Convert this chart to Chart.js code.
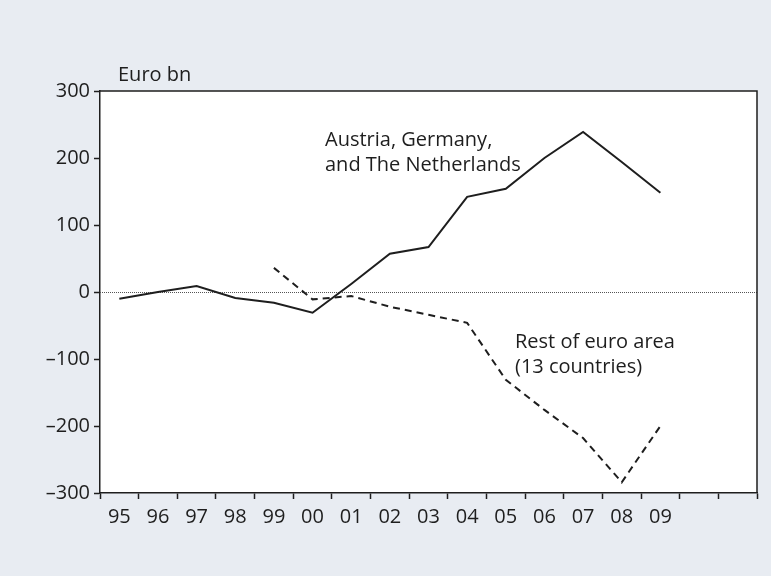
<!DOCTYPE html>
<html>
<head>
<meta charset="utf-8">
<script src="https://cdn.jsdelivr.net/npm/chart.js@4/dist/chart.umd.min.js"></script>
<style>
  html, body { margin: 0; padding: 0; background: #e8ecf2; }
  #wrap { width: 771px; height: 576px; }
</style>
</head>
<body>
<div id="wrap"><canvas id="c" width="771" height="576"></canvas></div>
<script>
const years = ['95', '96', '97', '98', '99', '00', '01', '02', '03', '04', '05', '06', '07', '08', '09', '', ''];
const coreSurplus = [-10, 0, 9, -9, -16, -31, 12, 57, 67, 142, 154, 200, 239, 194, 148, null, null];
const restSurplus = [null, null, null, null, 36, -11, -6, -22, -34, -46, -131, -176, -218, -284, -200, null, null];
const yTicks = [-300, -200, -100, 0, 100, 200, 300];

const FONT = '"Open Sans", "DejaVu Sans", sans-serif';
const INK = '#1e1e1e';

// white plot area, frame, zero line and the text notes
const framePlugin = {
  id: 'frame',
  beforeDraw(chart) {
    const { ctx, chartArea: a } = chart;
    ctx.save();
    ctx.fillStyle = '#ffffff';
    ctx.fillRect(a.left, a.top, a.right - a.left, a.bottom - a.top);
    ctx.restore();
  },
  beforeDatasetsDraw(chart) {
    const { ctx, chartArea: a, scales } = chart;
    const y0 = scales.y.getPixelForValue(0);
    ctx.save();
    ctx.strokeStyle = '#555555';
    ctx.lineWidth = 1;
    ctx.setLineDash([1, 1]);
    ctx.beginPath();
    ctx.moveTo(a.left, y0 + 0.5);
    ctx.lineTo(a.right, y0 + 0.5);
    ctx.stroke();
    ctx.restore();
  },
  afterDraw(chart) {
    const { ctx, chartArea: a } = chart;
    ctx.save();
    ctx.strokeStyle = INK;
    ctx.lineWidth = 1.5;
    ctx.beginPath();
    ctx.moveTo(a.left, a.top);
    ctx.lineTo(a.right, a.top);
    ctx.lineTo(a.right, a.bottom);
    ctx.stroke();

    ctx.fillStyle = INK;
    ctx.font = '20px ' + FONT;
    ctx.textBaseline = 'middle';
    ctx.textAlign = 'left';
    ctx.fillText('Euro bn', 118, 75);
    ctx.fillText('Austria, Germany,', 325, 140);
    ctx.fillText('and The Netherlands', 325, 165);
    ctx.fillText('Rest of euro area', 515, 342);
    ctx.fillText('(13 countries)', 515, 367);
    ctx.restore();
  }
};

new Chart(document.getElementById('c'), {
  type: 'line',
  data: {
    labels: years,
    datasets: [
      {
        label: 'Austria, Germany, and The Netherlands',
        data: coreSurplus,
        borderColor: INK,
        borderWidth: 2,
        pointRadius: 0,
        tension: 0,
        spanGaps: false
      },
      {
        label: 'Rest of euro area (13 countries)',
        data: restSurplus,
        borderColor: INK,
        borderWidth: 2,
        borderDash: [7, 5],
        pointRadius: 0,
        tension: 0,
        spanGaps: false
      }
    ]
  },
  options: {
    responsive: false,
    animation: false,
    layout: { padding: { top: 91, right: 14, left: 0, bottom: 0 } },
    plugins: { legend: { display: false }, tooltip: { enabled: false } },
    scales: {
      x: {
        type: 'category',
        offset: true,
        grid: { offset: true, drawOnChartArea: false, drawTicks: true, tickLength: 6, color: INK, tickWidth: 1.5 },
        border: { display: true, color: INK, width: 1.5 },
        ticks: { color: INK, font: { family: FONT, size: 20 }, padding: 6, maxRotation: 0, autoSkip: false },
        afterFit(scale) { scale.height = 83; }
      },
      y: {
        min: -300,
        max: 300,
        afterBuildTicks(scale) { scale.ticks = yTicks.map(v => ({ value: v })); },
        grid: { drawOnChartArea: false, drawTicks: true, tickLength: 6, color: INK, tickWidth: 1.5 },
        border: { display: true, color: INK, width: 1.5 },
        ticks: {
          color: INK,
          font: { family: FONT, size: 20 },
          padding: 4,
          callback: v => (v < 0 ? '\u2013' + Math.abs(v) : String(v))
        },
        afterFit(scale) { scale.width = 100; }
      }
    }
  },
  plugins: [framePlugin]
});
</script>
</body>
</html>
